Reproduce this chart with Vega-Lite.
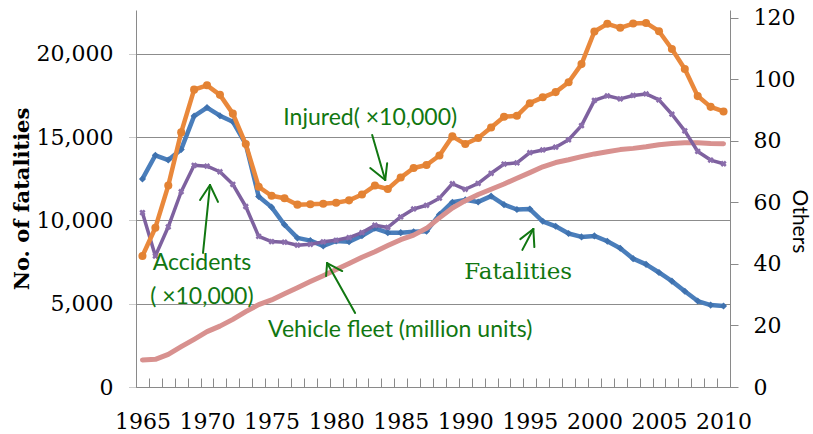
{
  "$schema": "https://vega.github.io/schema/vega-lite/v6.json",
  "width": 594,
  "height": 377,
  "autosize": "none",
  "padding": {"left": 136, "top": 10, "right": 83, "bottom": 47},
  "background": "white",
  "config": {
    "view": {"stroke": null},
    "axis": {"labelColor": "black", "titleColor": "black"}
  },
  "datasets": {
    "d": [
      {"year": 1965, "fatalities": 12484, "injured": 42.6, "accidents": 56.7, "fleet": 8.8},
      {"year": 1966, "fatalities": 13904, "injured": 51.8, "accidents": 42.6, "fleet": 9.0},
      {"year": 1967, "fatalities": 13618, "injured": 65.5, "accidents": 52.1, "fleet": 10.6},
      {"year": 1968, "fatalities": 14256, "injured": 82.8, "accidents": 63.5, "fleet": 13.1},
      {"year": 1969, "fatalities": 16257, "injured": 96.7, "accidents": 72.1, "fleet": 15.5},
      {"year": 1970, "fatalities": 16765, "injured": 98.1, "accidents": 71.8, "fleet": 18.0},
      {"year": 1971, "fatalities": 16278, "injured": 95.0, "accidents": 70.0, "fleet": 19.8},
      {"year": 1972, "fatalities": 15918, "injured": 88.9, "accidents": 65.9, "fleet": 22.0},
      {"year": 1973, "fatalities": 14574, "injured": 79.0, "accidents": 58.7, "fleet": 24.5},
      {"year": 1974, "fatalities": 11432, "injured": 65.1, "accidents": 49.0, "fleet": 26.8},
      {"year": 1975, "fatalities": 10792, "injured": 62.2, "accidents": 47.3, "fleet": 28.3},
      {"year": 1976, "fatalities": 9734, "injured": 61.4, "accidents": 47.1, "fleet": 30.3},
      {"year": 1977, "fatalities": 8945, "injured": 59.3, "accidents": 46.1, "fleet": 32.3},
      {"year": 1978, "fatalities": 8783, "injured": 59.4, "accidents": 46.4, "fleet": 34.3},
      {"year": 1979, "fatalities": 8466, "injured": 59.6, "accidents": 47.2, "fleet": 36.2},
      {"year": 1980, "fatalities": 8760, "injured": 59.9, "accidents": 47.7, "fleet": 38.2},
      {"year": 1981, "fatalities": 8719, "injured": 60.7, "accidents": 48.6, "fleet": 40.2},
      {"year": 1982, "fatalities": 9073, "injured": 62.6, "accidents": 50.2, "fleet": 42.2},
      {"year": 1983, "fatalities": 9520, "injured": 65.5, "accidents": 52.6, "fleet": 44.0},
      {"year": 1984, "fatalities": 9262, "injured": 64.4, "accidents": 51.9, "fleet": 46.0},
      {"year": 1985, "fatalities": 9261, "injured": 68.1, "accidents": 55.3, "fleet": 47.9},
      {"year": 1986, "fatalities": 9317, "injured": 71.2, "accidents": 57.9, "fleet": 49.4},
      {"year": 1987, "fatalities": 9347, "injured": 72.2, "accidents": 59.1, "fleet": 51.6},
      {"year": 1988, "fatalities": 10344, "injured": 75.3, "accidents": 61.4, "fleet": 55.0},
      {"year": 1989, "fatalities": 11086, "injured": 81.5, "accidents": 66.1, "fleet": 58.2},
      {"year": 1990, "fatalities": 11227, "injured": 79.0, "accidents": 64.3, "fleet": 60.6},
      {"year": 1991, "fatalities": 11105, "injured": 81.0, "accidents": 66.2, "fleet": 62.6},
      {"year": 1992, "fatalities": 11451, "injured": 84.4, "accidents": 69.5, "fleet": 64.3},
      {"year": 1993, "fatalities": 10942, "injured": 87.9, "accidents": 72.5, "fleet": 66.0},
      {"year": 1994, "fatalities": 10649, "injured": 88.2, "accidents": 72.9, "fleet": 67.9},
      {"year": 1995, "fatalities": 10679, "injured": 92.3, "accidents": 76.2, "fleet": 69.7},
      {"year": 1996, "fatalities": 9942, "injured": 94.2, "accidents": 77.1, "fleet": 71.6},
      {"year": 1997, "fatalities": 9640, "injured": 95.9, "accidents": 78.0, "fleet": 73.0},
      {"year": 1998, "fatalities": 9211, "injured": 99.1, "accidents": 80.4, "fleet": 73.9},
      {"year": 1999, "fatalities": 9006, "injured": 105.0, "accidents": 85.0, "fleet": 74.9},
      {"year": 2000, "fatalities": 9066, "injured": 115.6, "accidents": 93.2, "fleet": 75.8},
      {"year": 2001, "fatalities": 8747, "injured": 118.1, "accidents": 94.7, "fleet": 76.5},
      {"year": 2002, "fatalities": 8326, "injured": 116.8, "accidents": 93.7, "fleet": 77.2},
      {"year": 2003, "fatalities": 7702, "injured": 118.2, "accidents": 94.8, "fleet": 77.6},
      {"year": 2004, "fatalities": 7358, "injured": 118.4, "accidents": 95.3, "fleet": 78.1},
      {"year": 2005, "fatalities": 6871, "injured": 115.7, "accidents": 93.4, "fleet": 78.8},
      {"year": 2006, "fatalities": 6352, "injured": 109.9, "accidents": 88.7, "fleet": 79.2},
      {"year": 2007, "fatalities": 5744, "injured": 103.4, "accidents": 83.3, "fleet": 79.4},
      {"year": 2008, "fatalities": 5155, "injured": 94.6, "accidents": 76.6, "fleet": 79.4},
      {"year": 2009, "fatalities": 4914, "injured": 91.1, "accidents": 73.8, "fleet": 79.2},
      {"year": 2010, "fatalities": 4863, "injured": 89.6, "accidents": 72.6, "fleet": 79.1}
    ],
    "sansNotes": [
      {"year": 1982.64, "v": 87.5, "text": "Injured( ×10,000)"},
      {"year": 1969.61, "v": 40.3, "text": "Accidents"},
      {"year": 1969.6, "v": 29.3, "text": "( ×10,000)"},
      {"year": 1984.96, "v": 18.5, "text": "Vehicle fleet (million units)"}
    ],
    "serifNotes": [
      {"year": 1994.1, "v": 37.4, "text": "Fatalities"}
    ],
    "arrows": [
      {"year": 1982.79, "v": 81.95, "year2": 1983.80, "v2": 67.3},
      {"year": 1982.64, "v": 71.2, "year2": 1983.80, "v2": 67.3},
      {"year": 1983.95, "v": 72.8, "year2": 1983.80, "v2": 67.3},
      {"year": 1969.69, "v": 43.6, "year2": 1970.23, "v2": 65.7},
      {"year": 1969.46, "v": 60.8, "year2": 1970.23, "v2": 65.7},
      {"year": 1970.85, "v": 60.2, "year2": 1970.23, "v2": 65.7},
      {"year": 1981.47, "v": 24.1, "year2": 1979.30, "v2": 40.3},
      {"year": 1979.22, "v": 36.1, "year2": 1979.30, "v2": 40.3},
      {"year": 1980.47, "v": 37.7, "year2": 1979.30, "v2": 40.3},
      {"year": 1994.42, "v": 44.6, "year2": 1995.27, "v2": 51.4},
      {"year": 1994.26, "v": 48.1, "year2": 1995.27, "v2": 51.4},
      {"year": 1995.35, "v": 45.5, "year2": 1995.27, "v2": 51.4}
    ]
  },
  "layer": [
    {
      "data": {"name": "d"},
      "encoding": {
        "x": {
          "field": "year", "type": "quantitative",
          "scale": {"domain": [1964.5, 2010.5], "nice": false, "zero": false},
          "axis": {
            "orient": "bottom",
            "values": [1964.5, 1965.5, 1966.5, 1967.5, 1968.5, 1969.5, 1970.5, 1971.5, 1972.5, 1973.5, 1974.5, 1975.5, 1976.5, 1977.5, 1978.5, 1979.5, 1980.5, 1981.5, 1982.5, 1983.5, 1984.5, 1985.5, 1986.5, 1987.5, 1988.5, 1989.5, 1990.5, 1991.5, 1992.5, 1993.5, 1994.5, 1995.5, 1996.5, 1997.5, 1998.5, 1999.5, 2000.5, 2001.5, 2002.5, 2003.5, 2004.5, 2005.5, 2006.5, 2007.5, 2008.5, 2009.5, 2010.5],
            "labels": false, "grid": false, "title": null,
            "tickSize": -9, "tickColor": "#8a8a8a", "domainColor": "#8a8a8a"
          }
        },
        "y": {
          "field": "fatalities", "type": "quantitative",
          "scale": {"domain": [0, 22620], "nice": false},
          "axis": {
            "values": [0, 5000, 10000, 15000, 20000], "format": ",.0f",
            "grid": true, "gridColor": "#8c8c8c", "gridWidth": 1,
            "tickSize": 8, "tickColor": "#999999", "tickDash": [1, 1],
            "domainColor": "#8a8a8a",
            "labelFont": "DejaVu Serif", "labelFontSize": 22, "labelPadding": 15,
            "title": "No. of fatalities", "titleFont": "DejaVu Serif", "titleFontSize": 21,
            "titleFontWeight": "bold", "titlePadding": 4
          }
        }
      },
      "layer": [
        {"mark": {"type": "line", "color": "#4A7EBB", "strokeWidth": 4.5, "strokeJoin": "round", "strokeCap": "round"}},
        {"mark": {"type": "point", "shape": "diamond", "filled": true, "size": 50, "color": "#3F72AF", "opacity": 1}}
      ]
    },
    {
      "layer": [
        {
          "data": {"name": "d"},
          "mark": {"type": "line", "color": "#D8918F", "strokeWidth": 5, "strokeJoin": "round", "strokeCap": "round"},
          "encoding": {
            "x": {
              "field": "year", "type": "quantitative",
              "axis": {
                "orient": "bottom",
                "values": [1965, 1970, 1975, 1980, 1985, 1990, 1995, 2000, 2005, 2010],
                "format": "d", "ticks": false, "domain": false, "grid": false, "title": null,
                "labelFont": "DejaVu Serif", "labelFontSize": 22, "labelPadding": 24,
                "labelFlush": false, "labelOverlap": false
              }
            },
            "y": {
              "field": "fleet", "type": "quantitative",
              "scale": {"domain": [0, 122.6], "nice": false},
              "axis": {
                "orient": "right",
                "values": [0, 20, 40, 60, 80, 100, 120],
                "grid": false, "tickSize": 8, "tickColor": "#8a8a8a", "domainColor": "#8a8a8a",
                "labelFont": "DejaVu Serif", "labelFontSize": 22, "labelPadding": 15,
                "title": "Others", "titleFont": "Lato", "titleFontSize": 21,
                "titleFontWeight": "normal", "titlePadding": -6, "titleY": 211
              }
            }
          }
        },
        {
          "data": {"name": "d"},
          "mark": {"type": "line", "color": "#7E619F", "strokeWidth": 3.5, "strokeJoin": "round", "strokeCap": "round"},
          "encoding": {
            "x": {"field": "year", "type": "quantitative"},
            "y": {"field": "accidents", "type": "quantitative"}
          }
        },
        {
          "data": {"name": "d"},
          "mark": {"type": "point", "shape": "cross", "angle": 45, "filled": true, "size": 40, "color": "#8A6DAB", "opacity": 1},
          "encoding": {
            "x": {"field": "year", "type": "quantitative"},
            "y": {"field": "accidents", "type": "quantitative"}
          }
        },
        {
          "data": {"name": "d"},
          "mark": {"type": "line", "color": "#E9883B", "strokeWidth": 4.5, "strokeJoin": "round", "strokeCap": "round"},
          "encoding": {
            "x": {"field": "year", "type": "quantitative"},
            "y": {"field": "injured", "type": "quantitative"}
          }
        },
        {
          "data": {"name": "d"},
          "mark": {"type": "point", "shape": "circle", "filled": true, "size": 65, "color": "#E38233", "opacity": 1},
          "encoding": {
            "x": {"field": "year", "type": "quantitative"},
            "y": {"field": "injured", "type": "quantitative"}
          }
        },
        {
          "data": {"name": "arrows"},
          "mark": {"type": "rule", "color": "#117711", "strokeWidth": 2, "strokeCap": "round"},
          "encoding": {
            "x": {"field": "year", "type": "quantitative"},
            "y": {"field": "v", "type": "quantitative"},
            "x2": {"field": "year2"},
            "y2": {"field": "v2"}
          }
        },
        {
          "data": {"name": "sansNotes"},
          "mark": {"type": "text", "font": "Lato", "fontSize": 23, "color": "#117711", "align": "center", "baseline": "middle"},
          "encoding": {
            "x": {"field": "year", "type": "quantitative"},
            "y": {"field": "v", "type": "quantitative"},
            "text": {"field": "text"}
          }
        },
        {
          "data": {"name": "serifNotes"},
          "mark": {"type": "text", "font": "DejaVu Serif", "fontSize": 23, "color": "#117711", "align": "center", "baseline": "middle"},
          "encoding": {
            "x": {"field": "year", "type": "quantitative"},
            "y": {"field": "v", "type": "quantitative"},
            "text": {"field": "text"}
          }
        }
      ]
    }
  ],
  "resolve": {"scale": {"y": "independent"}, "axis": {"x": "independent"}}
}
